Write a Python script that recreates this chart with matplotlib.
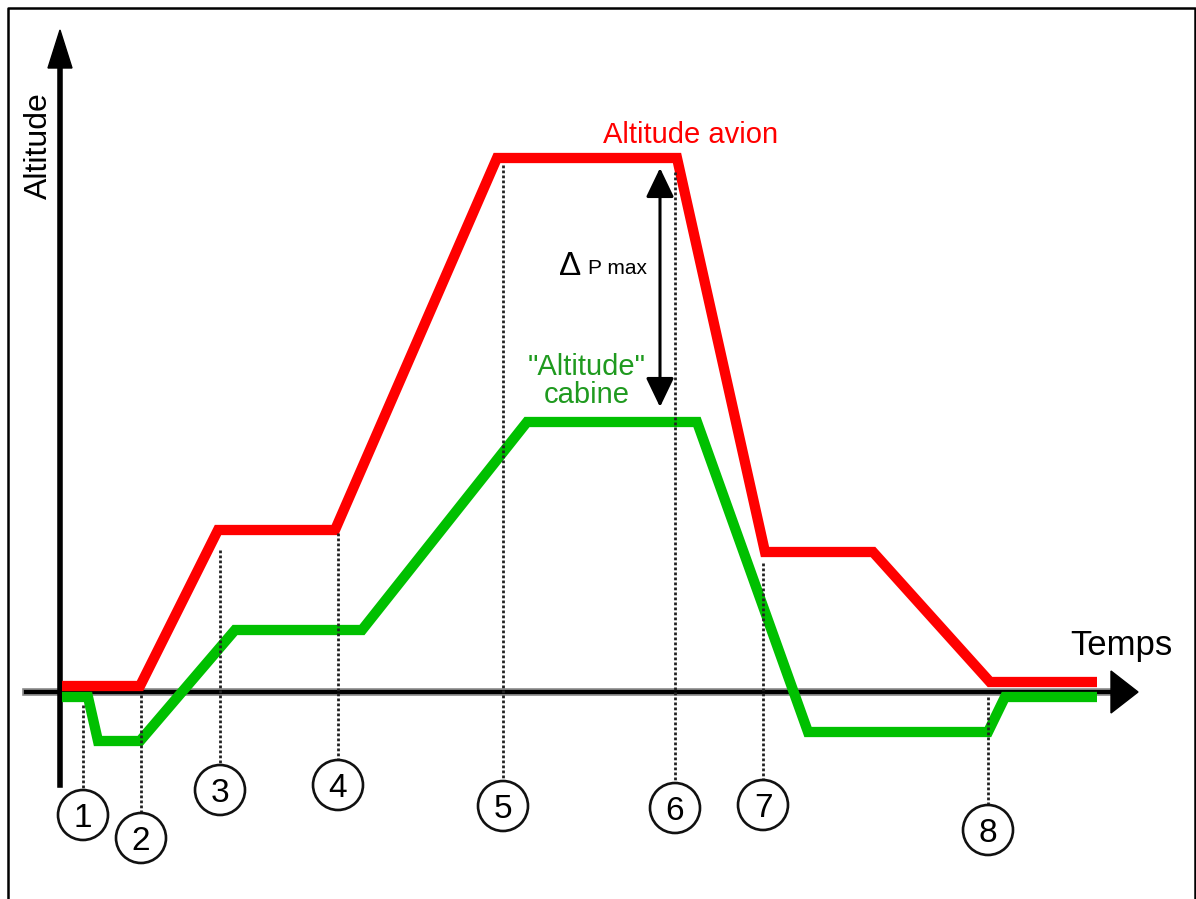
import numpy as np
import matplotlib.pyplot as plt
from matplotlib.patches import Circle, Polygon

plt.rcParams['font.family'] = ['Liberation Sans', 'DejaVu Sans']

# courbes (temps, altitude), unités arbitraires
t_avion = [2, 80, 158, 275, 437, 617, 705, 813, 930, 1037]
alt_avion = [6, 6, 162, 162, 534, 534, 140, 140, 10, 10]

t_cabine = [2, 28, 38, 80, 175, 302, 467, 637, 748, 928, 945, 1037]
alt_cabine = [-5, -5, -49, -49, 62, 62, 270, 270, -40, -40, -5, -5]

# repères numérotés
reperes = ['1', '2', '3', '4', '5', '6', '7', '8']
t_reperes = [23, 81, 160, 278, 443, 615, 703, 928]
haut_reperes = [-13, -3, 142, 159, 527, 520, 129, -5]
bas_reperes = [-123, -146, -98, -93, -114, -116, -113, -138]

# delta P max
t_dp = 600
dp_haut = 524
dp_bas = 285

rayon = 25

fig = plt.figure(figsize=(11.96, 8.99), dpi=100)
ax = fig.add_axes([0, 0, 1, 1])
ax.set_xlim(-60, 1136)
ax.set_ylim(-207, 692)
ax.axis('off')

# cadre
ax.plot([-52, -52, 1135, 1135], [-215, 684, 684, -215], color='black', lw=1.8, clip_on=False)

# axe des temps
ax.plot([-34, 1051], [0, 0], color='#8a8a8a', lw=5.5, zorder=2)
ax.plot([-34, 1051], [0, 0], color='black', lw=3, zorder=2)
ax.add_patch(Polygon([[1051, 21], [1051, -21], [1078, 0]], closed=True, color='black', zorder=2))

# axe des altitudes
ax.plot([0, 0], [-93, 624], color='black', lw=4, zorder=2)
ax.add_patch(Polygon([[-12, 624], [12, 624], [0, 662]], closed=True, color='black', zorder=2))

# courbes
ax.plot(t_avion, alt_avion, color='#ff0000', lw=7.4, solid_joinstyle='miter',
        solid_capstyle='butt', zorder=3)
ax.plot(t_cabine, alt_cabine, color='#00c000', lw=7.4, solid_joinstyle='miter',
        solid_capstyle='butt', zorder=3)

# repères
for lab, t, h, b in zip(reperes, t_reperes, haut_reperes, bas_reperes):
    ax.plot([t, t], [h, b + rayon], color='#222222', lw=2, ls=(0, (1, 0.8)), zorder=4)
    ax.add_patch(Circle((t, b), rayon, fill=False, lw=1.9, ec='#111111', zorder=4))
    ax.text(t, b - 12, lab, ha='center', va='baseline', fontsize=24, zorder=5)

# delta P max
ax.annotate('', xy=(t_dp, dp_haut), xytext=(t_dp, dp_bas),
            arrowprops=dict(arrowstyle='<|-|>, head_length=1.0, head_width=0.48',
                            mutation_scale=18, lw=2.2, color='black',
                            shrinkA=0, shrinkB=0), zorder=5)
ax.text(499, 417, '\u0394', fontsize=24, ha='left', va='baseline')
ax.text(528, 418, 'P max', fontsize=15, ha='left', va='baseline')

# textes
ax.text(543, 549, 'Altitude avion', color='#ff0000', fontsize=21, ha='left', va='baseline')
ax.text(527, 317, '"Altitude"', color='#1f9a1f', fontsize=21, ha='center', va='baseline')
ax.text(527, 289, 'cabine', color='#1f9a1f', fontsize=21, ha='center', va='baseline')
ax.text(1010, 37, 'Temps', fontsize=25, ha='left', va='baseline')
ax.text(-13, 546, 'Altitude', rotation=90, rotation_mode='anchor', ha='center',
        va='baseline', fontsize=23)

fig.savefig('out.png', dpi=100, facecolor='white')
